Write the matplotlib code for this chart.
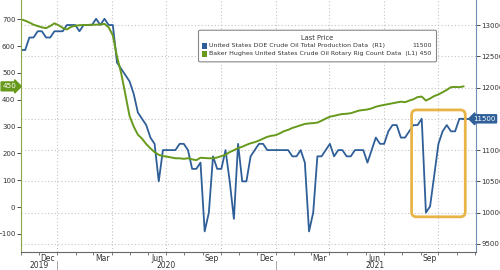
import pandas as pd
import matplotlib
matplotlib.use('Agg')
import matplotlib.pyplot as plt
import matplotlib.dates as mdates
import matplotlib.transforms as mtransforms
from matplotlib.patches import FancyBboxPatch, Rectangle

plt.rcParams['font.family'] = ['Liberation Sans Narrow', 'DejaVu Sans']

# weekly data
weeks = pd.date_range('2019-11-01', periods=107, freq='7D')

production = [12600, 12600, 12800, 12800, 12900, 12900, 12800, 12800, 12900, 12900,
              12900, 13000, 13000, 13000, 12900, 13000, 13000, 13000, 13100, 13000,
              13100, 13000, 13000, 12400, 12300, 12200, 12100, 11900, 11600, 11500,
              11400, 11200, 11100, 10500, 11000, 11000, 11000, 11000, 11100, 11100,
              11000, 10700, 10700, 10800, 9700, 10000, 10900, 10700, 10700, 11000,
              10500, 9900, 11100, 10500, 10500, 10900, 11000, 11100, 11100, 11000,
              11000, 11000, 11000, 11000, 11000, 10900, 10900, 11000, 10800, 9700,
              10000, 10900, 10900, 11000, 11100, 10900, 11000, 11000, 10900, 10900,
              11000, 11000, 11000, 10800, 11000, 11200, 11100, 11100, 11300, 11400,
              11400, 11200, 11200, 11300, 11400, 11400, 11500, 10000, 10100, 10600,
              11100, 11300, 11400, 11300, 11300, 11500, 11500]

rigs = [700, 695, 688, 680, 675, 670, 667, 675, 685, 678,
        668, 662, 672, 676, 678, 679, 679, 680, 680, 681,
        683, 670, 640, 561, 499, 420, 340, 300, 270, 255,
        235, 219, 205, 195, 190, 188, 185, 182, 182, 180,
        182, 178, 175, 184, 183, 182, 182, 185, 190, 195,
        205, 212, 220, 225, 232, 238, 242, 248, 255, 262,
        266, 268, 275, 283, 288, 295, 300, 305, 310, 312,
        313, 315, 322, 330, 337, 340, 344, 347, 348, 350,
        355, 360, 362, 364, 368, 374, 378, 381, 384, 387,
        390, 393, 391, 397, 402, 410, 412, 397, 405, 414,
        420, 428, 437, 447, 448, 447, 450]

month_labels = ['Dec', 'Mar', 'Jun', 'Sep', 'Dec', 'Mar', 'Jun', 'Sep']
month_pos = pd.to_datetime(['2019-12-16', '2020-03-16', '2020-06-16', '2020-09-16',
                            '2020-12-16', '2021-03-16', '2021-06-16', '2021-09-16'])
year_labels = ['2019', '2020', '2021']
year_pos = pd.to_datetime(['2019-12-01', '2020-07-01', '2021-06-17'])

blue = '#2f5f98'
green = '#679a1c'
gold = '#e8b447'
txt = '#333333'

fig = plt.figure(figsize=(5, 2.7), dpi=100)
ax = fig.add_axes([0.042, 0.067, 0.910, 0.933])
ax2 = ax.twinx()
ax.set_zorder(ax2.get_zorder() + 1)
ax.patch.set_visible(False)

xmin, xmax = pd.Timestamp('2019-11-01'), pd.Timestamp('2021-12-03')

ax2.plot(weeks, production, color=blue, lw=1.3)
ax2.plot([weeks[-1], xmax], [production[-1], production[-1]], color=blue, lw=1.3, clip_on=False)
ax.plot(weeks, rigs, color=green, lw=1.4)

ax.set_xlim(xmin, xmax)
ax.set_ylim(-167, 772)
ax2.set_ylim(9372, 13400)

ax.set_yticks(range(-100, 701, 100))
rticks = list(range(9500, 13001, 500))
ax2.set_yticks(rticks)
ax2.set_yticklabels(['' if t == production[-1] else str(t) for t in rticks])
for a in (ax, ax2):
    a.tick_params(axis='y', labelsize=5.0, colors=txt, length=3, width=0.6, pad=1)
    a.spines['top'].set_visible(False)
ax.spines['right'].set_visible(False)
ax2.spines['left'].set_visible(False)
ax.spines['left'].set_color('#8aa84a')
ax2.spines['right'].set_color('#6f8fb5')
ax.spines['bottom'].set_color('#666666')
ax2.spines['bottom'].set_visible(False)

# grid
ax2.yaxis.grid(True, color='#c4c4c4', lw=0.8, linestyle=(0, (1, 2)))
for d in pd.date_range('2020-01-01', '2021-10-01', freq='QS'):
    ax2.axvline(d, color='#c4c4c4', lw=0.8, linestyle=(0, (1, 2)), zorder=0)

# x axis
ax.xaxis.set_minor_locator(mdates.MonthLocator())
ax.set_xticks(month_pos)
ax.set_xticklabels(month_labels)
ax.tick_params(axis='x', which='major', length=0, labelsize=5.5, colors=txt, pad=1.5)
ax.tick_params(axis='x', which='minor', length=2.5, width=0.6, color='#666666')
trans = mtransforms.blended_transform_factory(ax.transData, ax.transAxes)
for lab, p in zip(year_labels, year_pos):
    ax.text(p, -0.038, lab, transform=trans, ha='center', va='top', fontsize=5.5, color=txt)
for d in pd.to_datetime(['2020-01-01', '2021-01-01']):
    ax.plot([d, d], [-0.035, -0.075], transform=trans, color='#999999', lw=0.6, clip_on=False)

# axis value tags
tl = mtransforms.blended_transform_factory(ax.transAxes, ax.transData)
ax.text(-0.01, rigs[-1], str(rigs[-1]), transform=tl, ha='right', va='center', fontsize=5.2,
        color='white', bbox=dict(boxstyle='rarrow,pad=0.2', fc=green, ec=green))
tr = mtransforms.blended_transform_factory(fig.transFigure, ax2.transData)
ax2.text(0.991, production[-1], str(production[-1]), transform=tr, ha='right', va='center',
         fontsize=5.0, color='white', bbox=dict(boxstyle='larrow,pad=0.15', fc=blue, ec=blue))

# highlight box around the latest dip
fig.canvas.draw()
p0 = ax2.transData.transform((mdates.date2num(pd.Timestamp('2021-08-17')), 11642))
p1 = ax2.transData.transform((mdates.date2num(pd.Timestamp('2021-11-15')), 9933))
hl = FancyBboxPatch((p0[0], p1[1]), p1[0] - p0[0], p0[1] - p1[1],
                    boxstyle='round,pad=0,rounding_size=5', fc='none', ec=gold, lw=2,
                    transform=mtransforms.IdentityTransform(), zorder=5)
fig.patches.append(hl)

# legend
lfs = 4.5
fig.patches.append(FancyBboxPatch((0.397, 0.771), 0.476, 0.117, boxstyle='round,pad=0,rounding_size=0.004',
                                  transform=fig.transFigure, fc='white', ec='#888888', lw=0.8, zorder=6))
fig.text(0.634, 0.859, 'Last Price', ha='center', va='center', fontsize=lfs + 0.3, color=txt, zorder=7)
fig.patches.append(Rectangle((0.403, 0.819), 0.011, 0.022, transform=fig.transFigure, fc=blue, ec='none', zorder=7))
fig.patches.append(Rectangle((0.403, 0.789), 0.011, 0.022, transform=fig.transFigure, fc=green, ec='none', zorder=7))
fig.text(0.418, 0.830, 'United States DOE Crude Oil Total Production Data  (R1)', ha='left', va='center',
         fontsize=lfs, color=txt, zorder=7)
fig.text(0.864, 0.830, str(production[-1]), ha='right', va='center', fontsize=lfs, color=txt, zorder=7)
fig.text(0.418, 0.800, 'Baker Hughes United States Crude Oil Rotary Rig Count Data  (L1) ' + str(rigs[-1]),
         ha='left', va='center', fontsize=lfs, color=txt, zorder=7)

fig.savefig('out.png', dpi=100)
